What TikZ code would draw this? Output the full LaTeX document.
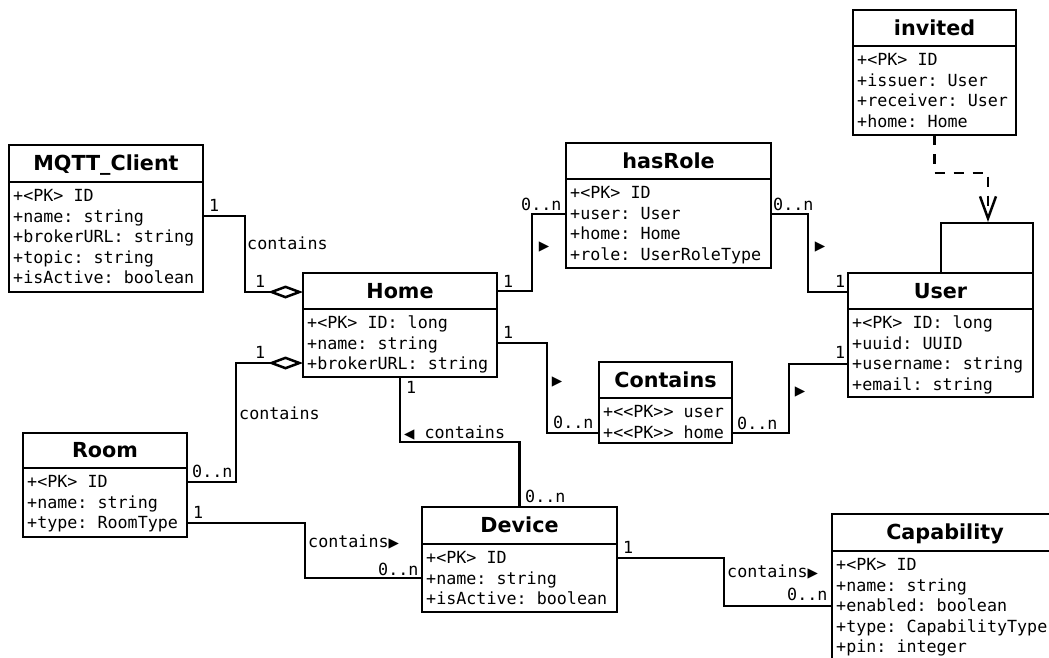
\documentclass[tikz,border=0pt]{standalone}
\usepackage{fontspec}
\setmonofont{DejaVu Sans Mono}
\newfontfamily\titlef{DejaVu Sans}
\newfontfamily\symf{DejaVu Sans}
\usetikzlibrary{arrows.meta}
\newcommand\trir{{\symf\fontsize{13.5}{13}\selectfont ▶}}
\newcommand\tril{{\symf\fontsize{13.5}{13}\selectfont ◀}}
\tikzset{
  box/.style={draw, line width=2.5pt, anchor=north west, inner sep=0pt, outer sep=0pt, fill=white},
  sep/.style={line width=2.5pt},
  ttl/.style={font=\titlef\bfseries\fontsize{20.7}{24}\selectfont, anchor=base, inner sep=0pt},
  attr/.style={font=\ttfamily\fontsize{16.7}{20}\selectfont, anchor=base west, inner sep=0pt},
  lbl/.style={font=\ttfamily\fontsize{16.7}{20}\selectfont, anchor=base west, inner sep=0pt},
  mk/.style={inner sep=0pt, anchor=center},
  conn/.style={line width=2.5pt},
  agg/.style={conn, -{Diamond[open,length=35pt,width=13pt]}},
  dep/.style={line width=2.5pt, dash pattern=on 10pt off 9pt, -{Straight Barb[length=22pt,width=16pt]}},
}
\newcommand\umlbox[8]{%
  \node[box, minimum width={#4-#2}, minimum height={#6-#3}] (#1) at (#2,#3) {};
  \draw[sep] (#2,#5) -- (#4,#5);
  \node[ttl] (#1-t) at ({(#2+#4)/2}, {(#3+#5)/2+7}) {#7};
  \foreach \r [count=\i] in {#8} {
    \node[attr] (#1-a\i) at ({#2+4}, {#5+19.5+20.6*(\i-1)}) {\r};
  }%
}
\begin{document}
\begin{tikzpicture}[x=1pt, y=-1pt]
\useasboundingbox (0,0) rectangle (1049,657);
\fill[white] (0,0) rectangle (1049,657);
\clip (0,0) rectangle (1049,657);

% classes
\umlbox{mqtt}{9}{145}{203}{182}{292}{MQTT\_Client}{+<{}PK> ID, +name: string, +brokerURL: string, +topic: string, +isActive: boolean}
\umlbox{home}{303}{273}{497}{309}{377}{Home}{+<{}PK> ID: long, +name: string, +brokerURL: string}
\umlbox{hasrole}{566}{143}{771}{179}{268}{hasRole}{+<{}PK> ID, +user: User, +home: Home, +role: UserRoleType}
\umlbox{invited}{853}{10}{1016}{46}{135}{invited}{+<{}PK> ID, +issuer: User, +receiver: User, +home: Home}
\umlbox{user}{848}{273}{1033}{309}{397}{User}{+<{}PK> ID: long, +uuid: UUID, +username: string, +email: string}
\umlbox{contains}{599}{362}{732}{398}{443}{Contains}{+<{}<{}PK>{}> user, +<{}<{}PK>{}> home}
\umlbox{room}{23}{433}{187}{468}{537}{Room}{+<{}PK> ID, +name: string, +type: RoomType}
\umlbox{device}{422}{507}{617}{544}{612}{Device}{+<{}PK> ID, +name: string, +isActive: boolean}
\umlbox{cap}{832}{514}{1058}{551}{680}{Capability}{+<{}PK> ID, +name: string, +enabled: boolean, +type: CapabilityType, +pin: integer}

% MQTT_Client -> Home
\draw[agg] (mqtt.east |- 0,216) -| (245,292) -- (home.west |- 0,292);
\node[lbl] (l1a) at (209,211) {1};
\node[lbl] (l1b) at (255,287) {1};
\node[lbl] (l1c) at (247,249) {contains};

% Room -> Home
\draw[agg] (room.east |- 0,482) -| (236,363) -- (home.west |- 0,363);
\node[lbl] (l2a) at (192,477) {0..n};
\node[lbl] (l2b) at (255,358) {1};
\node[lbl] (l2c) at (239,419) {contains};

% Home -> hasRole
\draw[conn] (home.east |- 0,291) -| (532,214) -- (hasrole.west |- 0,214);
\node[lbl] (l3a) at (503,287) {1};
\node[lbl] (l3b) at (521,210) {0..n};
\node[mk] (m3) at (544,247) {\trir};

% hasRole -> User
\draw[conn] (hasrole.east |- 0,214) -| (808,292) -- (user.west |- 0,292);
\node[lbl] (l4a) at (773,210) {0..n};
\node[lbl] (l4b) at (835,287) {1};
\node[mk] (m4) at (820,247) {\trir};

% Home -> Contains
\draw[conn] (home.east |- 0,343) -| (547,433) -- (contains.west |- 0,433);
\node[lbl] (l5a) at (503,338) {1};
\node[lbl] (l5b) at (553,428) {0..n};
\node[mk] (m5) at (557,382) {\trir};

% Contains -> User
\draw[conn] (contains.east |- 0,433) -| (789,364) -- (user.west |- 0,364);
\node[lbl] (l6a) at (737,429) {0..n};
\node[lbl] (l6b) at (835,358) {1};
\node[mk] (m6) at (800,392) {\trir};

% Home -> Device
\draw[conn] (home.south) |- (device.north |- 0,442) -- (device.north);
\node[lbl] (l7a) at (406,393) {1};
\node[lbl] (l7b) at (404,438) {\tril\ contains};
\node[lbl] (l7c) at (525,502) {0..n};

% Room -> Device
\draw[conn] (room.east |- 0,523) -| (305,578) -- (device.west |- 0,578);
\node[lbl] (l8a) at (193,518) {1};
\node[lbl] (l8b) at (308,547) {contains\trir};
\node[lbl] (l8c) at (378,575) {0..n};

% Device -> Capability
\draw[conn] (device.east |- 0,558) -| (724,606) -- (cap.west |- 0,606);
\node[lbl] (l9a) at (623,553) {1};
\node[lbl] (l9b) at (727,577) {contains\trir};
\node[lbl] (l9c) at (787,600) {0..n};

% User self loop
\draw[conn] (user.north -| 941,0) -- (941,223) -- (user.north east |- 0,223) -- (user.north east);

% invited -> User (dependency)
\draw[dep] (invited.south |- 0,135) -- (934.5,173) -| (988,222);
\end{tikzpicture}
\end{document}
